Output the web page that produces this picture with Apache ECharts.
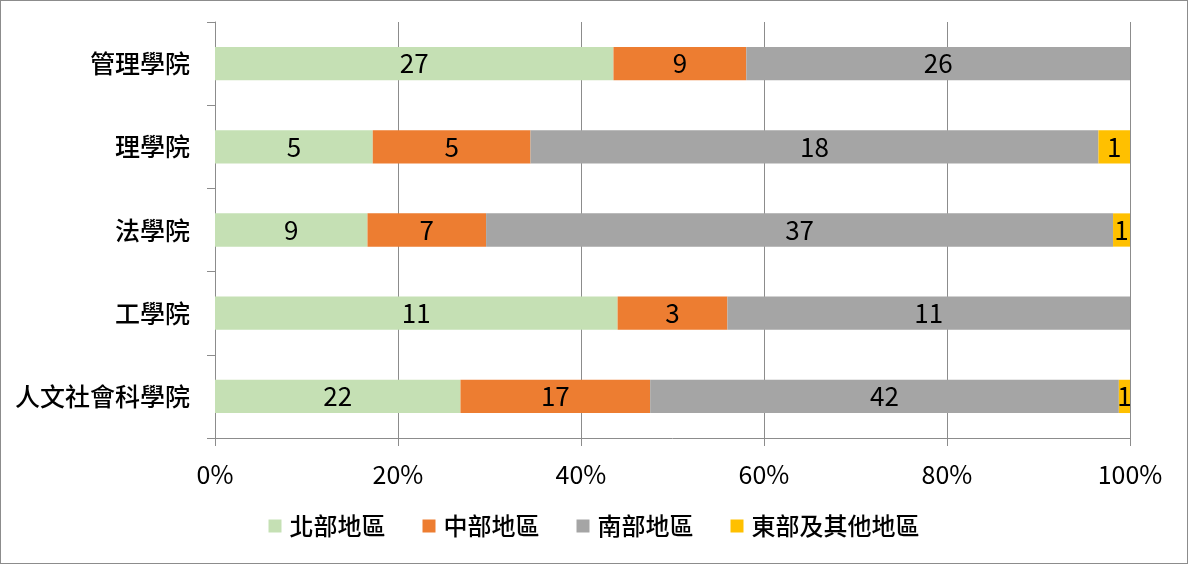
<!DOCTYPE html>
<html>
<head>
<meta charset="utf-8">
<script src="https://cdn.jsdelivr.net/npm/echarts@6/dist/echarts.min.js"></script>
<style>
  html, body { margin: 0; padding: 0; background: #fff; }
  #chart { width: 1188px; height: 564px; box-sizing: border-box; border: 1px solid #8c8c8c; }
</style>
</head>
<body>
<div id="chart"></div>
<script>
// 學院 (由下而上)
const colleges = ['人文社會科學院', '工學院', '法學院', '理學院', '管理學院'];
const regions = ['北部地區', '中部地區', '南部地區', '東部及其他地區'];
const north = [22, 11, 9, 5, 27];
const central = [17, 3, 7, 5, 9];
const south = [42, 11, 37, 18, 26];
const east = [1, 0, 1, 1, 0];
const colors = ['#C5E0B4', '#ED7D31', '#A5A5A5', '#FFC000'];
const xTicks = [0, 20, 40, 60, 80, 100];

const counts = [north, central, south, east];
const totals = colleges.map((c, i) => counts.reduce((s, arr) => s + arr[i], 0));

const font = '"Noto Sans CJK TC", "Noto Sans", sans-serif';

const chart = echarts.init(document.getElementById('chart'));
chart.setOption({
    animation: false,
    color: colors,
    grid: { left: 214, right: 57, top: 21, bottom: 125, containLabel: false },
    legend: {
        bottom: 20,
        left: 'center',
        itemWidth: 13,
        itemHeight: 13,
        itemGap: 37,
        icon: 'rect',
        textStyle: { fontFamily: font, fontSize: 24, fontWeight: 500, color: '#000', padding: [0, 0, 0, 3] },
        data: regions
    },
    xAxis: {
        type: 'value',
        min: 0,
        max: 100,
        interval: 20,
        axisLine: { show: true, lineStyle: { color: '#8c8c8c' } },
        axisTick: { show: true, length: 8, lineStyle: { color: '#8c8c8c' } },
        splitLine: { show: true, lineStyle: { color: '#8c8c8c' } },
        axisLabel: {
            fontFamily: font, fontSize: 25, color: '#000', margin: 24,
            formatter: v => xTicks.includes(v) ? v + '%' : ''
        }
    },
    yAxis: {
        type: 'category',
        data: colleges,
        axisLine: { show: true, lineStyle: { color: '#8c8c8c' } },
        axisTick: { show: true, length: 8, lineStyle: { color: '#8c8c8c' } },
        axisLabel: { fontFamily: font, fontSize: 25, fontWeight: 500, color: '#000', margin: 25 }
    },
    series: regions.map((name, k) => ({
        name: name,
        type: 'bar',
        stack: 'total',
        barWidth: '40%',
        data: counts[k].map((v, i) => v / totals[i] * 100),
        label: {
            show: true,
            position: 'inside',
            fontFamily: font,
            fontSize: 26,
            color: '#000',
            formatter: p => counts[k][p.dataIndex] ? String(counts[k][p.dataIndex]) : ''
        }
    }))
});
</script>
</body>
</html>
